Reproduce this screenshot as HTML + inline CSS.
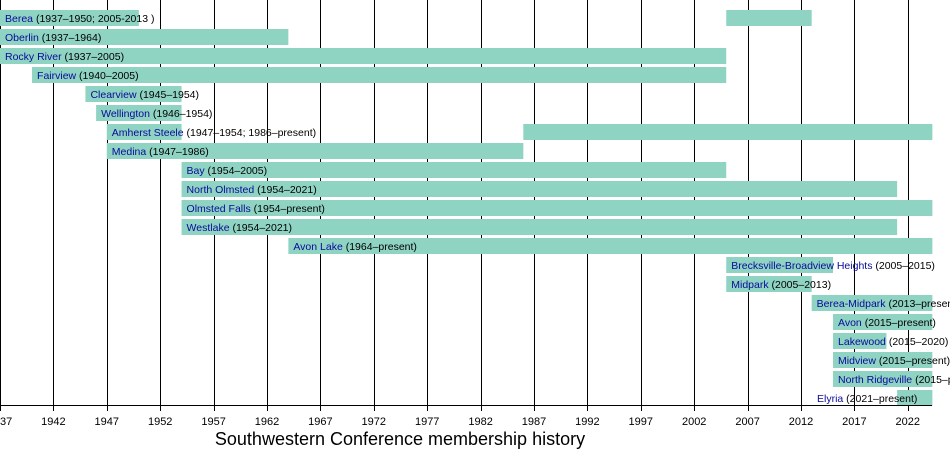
<!DOCTYPE html>
<html><head><meta charset="utf-8"><style>
html,body{margin:0;padding:0;background:#fff;width:950px;height:455px;overflow:hidden}
svg{display:block;font-family:"Liberation Sans",Arial,sans-serif}
.n{fill:#0a0a9a}
</style></head><body>
<svg width="950" height="455" viewBox="0 0 950 455" xmlns="http://www.w3.org/2000/svg">
<g id="grid" stroke="#000" stroke-width="1"></g>
<g id="bars" fill="#8fd3c3"></g>
<g id="labels" font-size="10.5"></g>
<line x1="0" y1="405.5" x2="932" y2="405.5" stroke="#000"/>
<g id="ticks" font-size="11" text-anchor="middle" fill="#000"></g>
<text x="400" y="445" font-size="18" text-anchor="middle">Southwestern Conference membership history</text>
<script>
var S=10.68,X=function(y){return (y-1937)*S;};
var ns="http://www.w3.org/2000/svg";
function el(p,t,a,txt){var e=document.createElementNS(ns,t);for(var k in a)e.setAttribute(k,a[k]);if(txt!=null)e.textContent=txt;document.getElementById(p).appendChild(e);return e;}
for(var y=1937;y<=2022;y+=5){var x=Math.round(X(y))+0.5;el('grid','line',{x1:x,y1:0,x2:x,y2:411});el('ticks','text',{x:X(y),y:425},String(y));}
var P=2024.3;
var rows=[
["Berea"," (1937–1950; 2005-2013 )",[[1937,1950],[2005,2013]]],
["Oberlin"," (1937–1964)",[[1937,1964]]],
["Rocky River"," (1937–2005)",[[1937,2005]]],
["Fairview"," (1940–2005)",[[1940,2005]]],
["Clearview"," (1945–1954)",[[1945,1954]]],
["Wellington"," (1946–1954)",[[1946,1954]]],
["Amherst Steele"," (1947–1954; 1986–present)",[[1947,1954],[1986,P]]],
["Medina"," (1947–1986)",[[1947,1986]]],
["Bay"," (1954–2005)",[[1954,2005]]],
["North Olmsted"," (1954–2021)",[[1954,2021]]],
["Olmsted Falls"," (1954–present)",[[1954,P]]],
["Westlake"," (1954–2021)",[[1954,2021]]],
["Avon Lake"," (1964–present)",[[1964,P]]],
["Brecksville-Broadview Heights"," (2005–2015)",[[2005,2015]]],
["Midpark"," (2005–2013)",[[2005,2013]]],
["Berea-Midpark"," (2013–present)",[[2013,P]]],
["Avon"," (2015–present)",[[2015,P]]],
["Lakewood"," (2015–2020)",[[2015,2020]]],
["Midview"," (2015–present)",[[2015,P]]],
["North Ridgeville"," (2015–present)",[[2015,P]]],
["Elyria"," (2021–present)",[[2021,P]]]
];
rows.forEach(function(r,i){
 var top=10+19*i;
 r[2].forEach(function(s){el('bars','rect',{x:X(s[0]),y:top,width:X(s[1])-X(s[0]),height:16});});
 var lx=X(r[2][0][0])+5; if(r[0]=="Elyria")lx=817;
 var t=el('labels','text',{x:lx,y:top+12});
 var a=document.createElementNS(ns,'tspan');a.setAttribute('class','n');a.textContent=r[0];t.appendChild(a);
 var b=document.createElementNS(ns,'tspan');b.textContent=r[1];t.appendChild(b);
});
</script>
</svg>
</body></html>
